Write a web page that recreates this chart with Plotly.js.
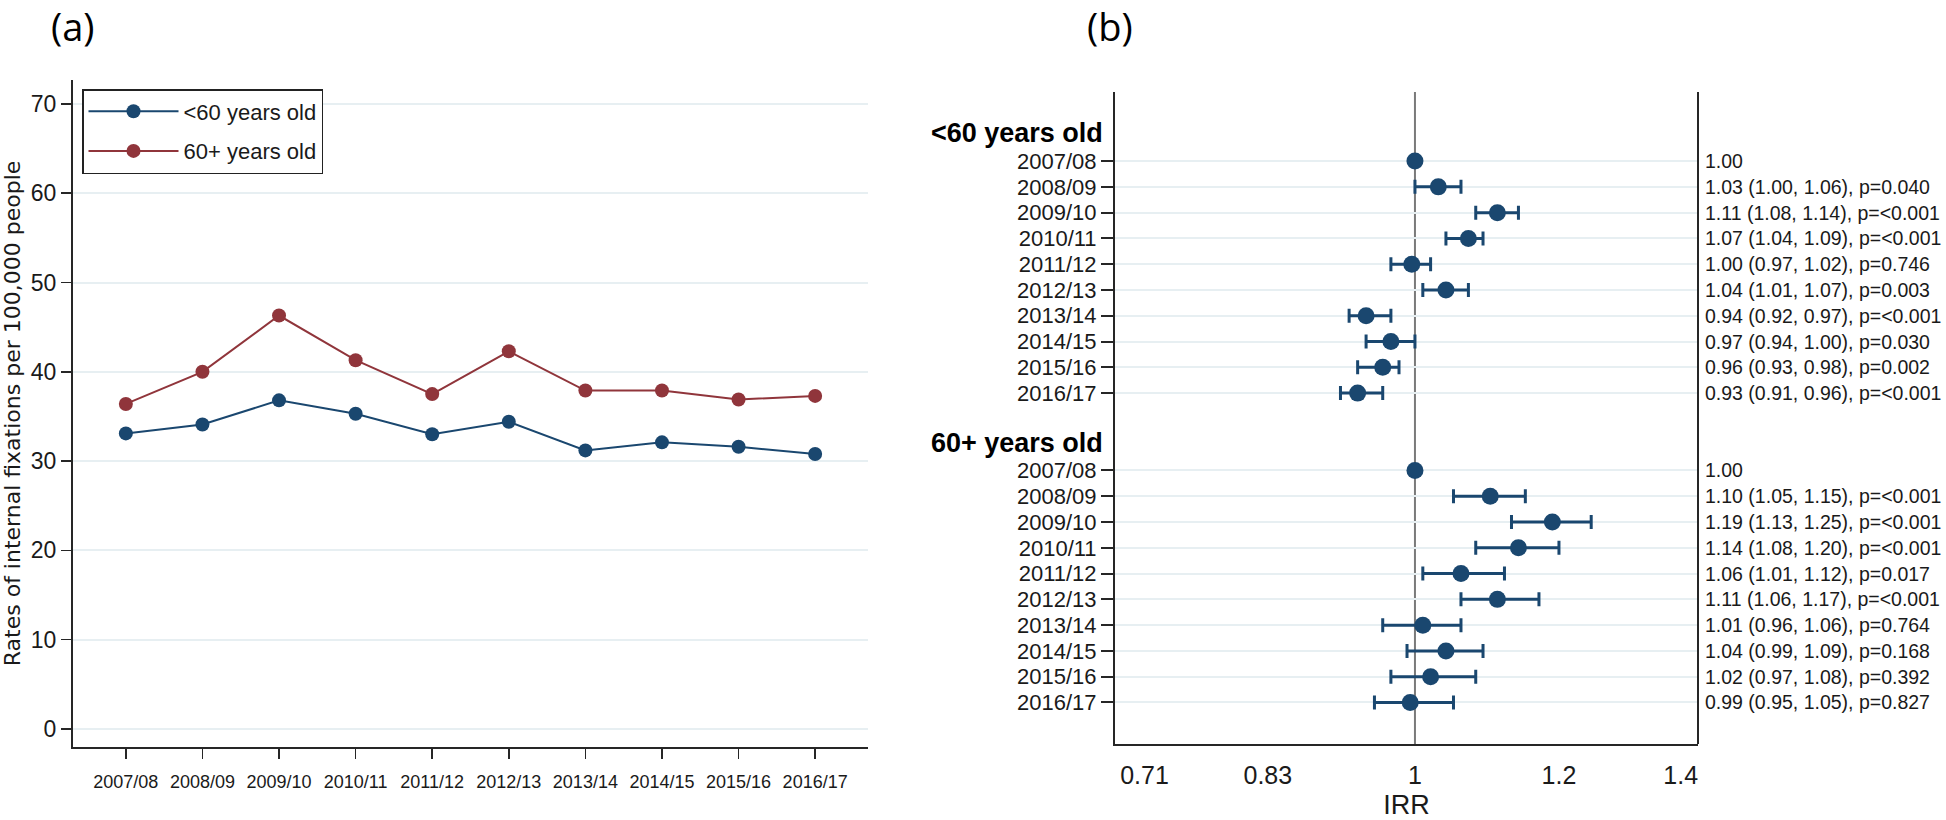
<!DOCTYPE html>
<html>
<head>
<meta charset="utf-8">
<script src="https://cdn.plot.ly/plotly-3.0.1.min.js"></script>
<style>
html, body { margin: 0; padding: 0; background: #fff; }
#chart { width: 1946px; height: 820px; }
</style>
</head>
<body>
<div id="chart"></div>
<script>
// ---------- Panel (a) data ----------
const years = ['2007/08', '2008/09', '2009/10', '2010/11', '2011/12', '2012/13', '2013/14', '2014/15', '2015/16', '2016/17'];
const rateUnder60 = [33.1, 34.1, 36.8, 35.3, 33.0, 34.4, 31.2, 32.1, 31.6, 30.8];
const rate60plus = [36.4, 40.0, 46.3, 41.3, 37.5, 42.3, 37.9, 37.9, 36.9, 37.3];
const seriesNames = ['<60 years old', '60+ years old'];
const rateTicks = [0, 10, 20, 30, 40, 50, 60, 70];

// ---------- Panel (b) data ----------
const groupLabels = ['<60 years old', '60+ years old'];
const irrUnder60 = [1.00, 1.03, 1.11, 1.07, 0.996, 1.04, 0.94, 0.97, 0.96, 0.93];
const loUnder60 = [null, 1.00, 1.08, 1.04, 0.97, 1.01, 0.92, 0.94, 0.93, 0.91];
const hiUnder60 = [null, 1.06, 1.14, 1.09, 1.02, 1.07, 0.97, 1.00, 0.98, 0.96];
const pUnder60 = [null, '0.040', '<0.001', '<0.001', '0.746', '0.003', '<0.001', '0.030', '0.002', '<0.001'];
const irr60plus = [1.00, 1.10, 1.19, 1.14, 1.06, 1.11, 1.01, 1.04, 1.02, 0.994];
const lo60plus = [null, 1.05, 1.13, 1.08, 1.01, 1.06, 0.96, 0.99, 0.97, 0.95];
const hi60plus = [null, 1.15, 1.25, 1.20, 1.12, 1.17, 1.06, 1.09, 1.08, 1.05];
const p60plus = [null, '<0.001', '<0.001', '<0.001', '0.017', '<0.001', '0.764', '0.168', '0.392', '0.827'];
const irrTicks = [0.71, 0.83, 1, 1.2, 1.4];

// ---------- styling ----------
const NAVY = '#1a476f';
const MAROON = '#90353b';
const AXIS = '#262626';
const TXT = '#1a1a1a';
const GRID = '#e7eff2';
const SANS = 'Liberation Sans, Arial, sans-serif';

// Row positions in panel (b): computed layout positions
function rowPos(g, i) { return 2.68 + 12 * g + i; }
function headPos(g) { return 1.6 + 12 * g; }

const traces = [];
[rateUnder60, rate60plus].forEach((vals, k) => {
  const c = k === 0 ? NAVY : MAROON;
  traces.push({
    type: 'scatter', mode: 'lines+markers',
    x: years, y: vals, name: seriesNames[k],
    legendgroup: 'g' + k,
    line: { color: c, width: 2 },
    marker: { color: c, size: 14 },
    xaxis: 'x', yaxis: 'y'
  });
});

const groups = [
  { est: irrUnder60, lo: loUnder60, hi: hiUnder60, p: pUnder60 },
  { est: irr60plus, lo: lo60plus, hi: hi60plus, p: p60plus }
];

const annotations = [];
const allTickVals = [];
const allTickText = [];

groups.forEach((G, g) => {
  const ys = years.map((_, i) => rowPos(g, i));
  ys.forEach((y, i) => { allTickVals.push(y); allTickText.push(years[i]); });
  traces.push({
    type: 'scatter', mode: 'markers',
    x: G.est, y: ys, showlegend: false,
    legendgroup: 'f' + g,
    marker: { color: NAVY, size: 17 },
    error_x: {
      type: 'data', symmetric: false,
      array: G.est.map((e, i) => G.hi[i] == null ? NaN : G.hi[i] - e),
      arrayminus: G.est.map((e, i) => G.lo[i] == null ? NaN : e - G.lo[i]),
      color: NAVY, thickness: 3, width: 7
    },
    xaxis: 'x2', yaxis: 'y2'
  });
  annotations.push({
    xref: 'x2 domain', yref: 'y2', x: 0, y: headPos(g), xshift: -10,
    xanchor: 'right', yanchor: 'middle', showarrow: false,
    text: '<b>' + groupLabels[g] + '</b>',
    font: { family: SANS, size: 27, color: '#000' }
  });
  G.est.forEach((e, i) => {
    const t = e.toFixed(2) + (G.lo[i] == null ? '' :
      ' (' + G.lo[i].toFixed(2) + ', ' + G.hi[i].toFixed(2) + '), p=' + G.p[i]);
    annotations.push({
      xref: 'x2 domain', yref: 'y2', x: 1, y: ys[i], xshift: 5,
      xanchor: 'left', yanchor: 'middle', showarrow: false,
      text: t, font: { family: SANS, size: 19.5, color: TXT }
    });
  });
});

annotations.push({
  xref: 'paper', yref: 'paper', x: 73 / 1946, y: 1 - 26 / 820,
  xanchor: 'center', yanchor: 'middle', showarrow: false,
  text: '(a)', font: { family: 'Open Sans, sans-serif', size: 38, color: '#000' }
});
annotations.push({
  xref: 'paper', yref: 'paper', x: 1110 / 1946, y: 1 - 26 / 820,
  xanchor: 'center', yanchor: 'middle', showarrow: false,
  text: '(b)', font: { family: 'Open Sans, sans-serif', size: 38, color: '#000' }
});

const layout = {
  width: 1946, height: 820,
  margin: { l: 0, r: 0, t: 0, b: 0 },
  paper_bgcolor: '#fff', plot_bgcolor: '#fff',
  font: { family: SANS, color: TXT },
  showlegend: true,
  legend: {
    x: 82 / 1946, y: 1 - 89 / 820, xanchor: 'left', yanchor: 'top',
    bgcolor: '#fff', bordercolor: '#222', borderwidth: 1.5,
    font: { family: SANS, size: 22, color: TXT },
    itemwidth: 90, tracegroupgap: 8, traceorder: 'grouped'
  },
  xaxis: {
    domain: [73 / 1946, 868 / 1946], anchor: 'y',
    type: 'category', range: [-0.69, 9.69],
    showline: true, linecolor: AXIS, linewidth: 2,
    ticks: 'outside', ticklen: 10, tickwidth: 1.5, tickcolor: AXIS,
    ticklabelstandoff: 7,
    tickfont: { family: SANS, size: 18, color: TXT },
    showgrid: false, zeroline: false, fixedrange: true
  },
  yaxis: {
    domain: [1 - 747 / 820, 1 - 80 / 820], anchor: 'x',
    range: [-2.02, 72.68], tickvals: rateTicks,
    showline: true, linecolor: AXIS, linewidth: 2,
    ticks: 'outside', ticklen: 10, tickwidth: 1.5, tickcolor: AXIS,
    tickfont: { family: SANS, size: 23, color: TXT },
    showgrid: true, gridcolor: GRID, gridwidth: 2, zeroline: false,
    title: { text: 'Rates of internal fixations per 100,000 people',
      font: { family: 'DejaVu Sans, sans-serif', size: 22, color: TXT }, standoff: 8 }
  },
  xaxis2: {
    domain: [1115 / 1946, 1698 / 1946], anchor: 'y2',
    type: 'log', range: [Math.log10(0.684), Math.log10(1.431)],
    tickvals: irrTicks, ticktext: irrTicks.map(String),
    showline: true, linecolor: AXIS, linewidth: 2,
    ticks: 'outside', ticklen: 8, tickcolor: 'rgba(0,0,0,0)',
    tickfont: { family: SANS, size: 25, color: TXT },
    showgrid: false, zeroline: false,
    title: { text: 'IRR', font: { family: SANS, size: 27, color: TXT }, standoff: 14 }
  },
  yaxis2: {
    domain: [1 - 744 / 820, 1 - 92 / 820], anchor: 'x2',
    range: [25.29, 0], tickvals: allTickVals, ticktext: allTickText,
    showline: true, linecolor: AXIS, linewidth: 2,
    ticks: 'outside', ticklen: 12, tickwidth: 2, tickcolor: AXIS,
    tickfont: { family: SANS, size: 22, color: TXT },
    showgrid: true, gridcolor: GRID, gridwidth: 2, zeroline: false
  },
  shapes: [
    { type: 'line', layer: 'below', xref: 'x2', yref: 'y2 domain',
      x0: 1, x1: 1, y0: 0, y1: 1, line: { color: '#7a7a7a', width: 2 } },
    { type: 'line', layer: 'above', xref: 'x2 domain', yref: 'y2 domain',
      x0: 1, x1: 1, y0: 0, y1: 1, line: { color: AXIS, width: 2 } }
  ],
  annotations: annotations
};

Plotly.newPlot('chart', traces, layout, { staticPlot: true, displayModeBar: false });
</script>
</body>
</html>
